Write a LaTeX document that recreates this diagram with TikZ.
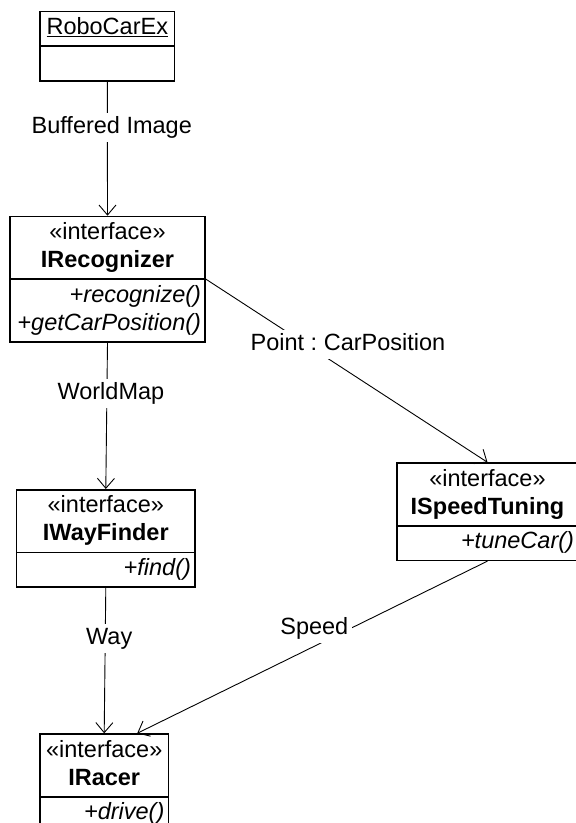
\documentclass[tikz,border=0pt]{standalone}
\usepackage{fontspec}
\setmainfont{Liberation Sans}
\usetikzlibrary{shapes.multipart,arrows.meta}
\tikzset{
  classbox/.style={draw, line width=1.6pt, rectangle split, rectangle split parts=2,
    inner xsep=4pt, inner ysep=2.5pt, anchor=north, font=\fontsize{23.5}{28}\selectfont},
  assoc/.style={line width=0.9pt, -{Straight Barb[length=10pt,width=17pt,line width=0.9pt]}},
  lbl/.style={fill=white, inner sep=3.5pt, text height=17pt, text depth=5pt,
    font=\fontsize{23.5}{28}\selectfont}
}
\begin{document}
\begin{tikzpicture}[x=1pt,y=-1pt]

\def\STEREO{«interface»}
\useasboundingbox (0,0) rectangle (576,823);
	\node[classbox, text width=126.7pt] (robo) at (107.3,10.7)
		{\centering\strut\underline{RoboCarEx}\par\nodepart{two}\strut};
	\node[classbox, text width=187pt] (rec) at (107.5,215.7)
		{\centering\strut\STEREO\\\textbf{IRecognizer}\strut\par
		 \nodepart{two}\raggedleft\strut\textit{+recognize()}\\\textit{+getCarPosition()}\strut\par};
	\node[classbox, text width=170.3pt] (wf) at (105.8,489)
		{\centering\strut\STEREO\\\textbf{IWayFinder}\strut\par
		 \nodepart{two}\raggedleft\strut\textit{+find()}\par};
	\node[classbox, text width=173pt] (speed) at (487.5,462.3)
		{\centering\strut\STEREO\\\textbf{ISpeedTuning}\strut\par
		 \nodepart{two}\raggedleft\strut\textit{+tuneCar()}\par};
	\node[classbox, text width=120.3pt] (racer) at (104.2,733.3)
		{\centering\strut\STEREO\\\textbf{IRacer}\strut\par
		 \nodepart{two}\raggedleft\strut\textit{+drive()}\par};

	\draw[assoc] (robo.south) -- node[lbl, pos=0.34, xshift=4.4pt] (buflbl) {Buffered Image} (rec.north);
	\draw[assoc] (rec.text split east) -- node[lbl, pos=0.45, xshift=15.4pt, yshift=17.2pt] (poslbl) {Point :\ CarPosition} (speed.north);
	\draw[assoc] (rec.south) -- node[lbl, pos=0.35, xshift=4pt] (maplbl) {WorldMap} (wf.north);
	\draw[assoc] (wf.south) -- node[lbl, pos=0.35, xshift=4pt] (waylbl) {Way} (racer.north);
	\draw[assoc] (speed.south) -- node[lbl, pos=0.5, xshift=2pt, yshift=19pt] (spdlbl) {Speed} ([xshift=33pt]racer.north);

\end{tikzpicture}
\end{document}
